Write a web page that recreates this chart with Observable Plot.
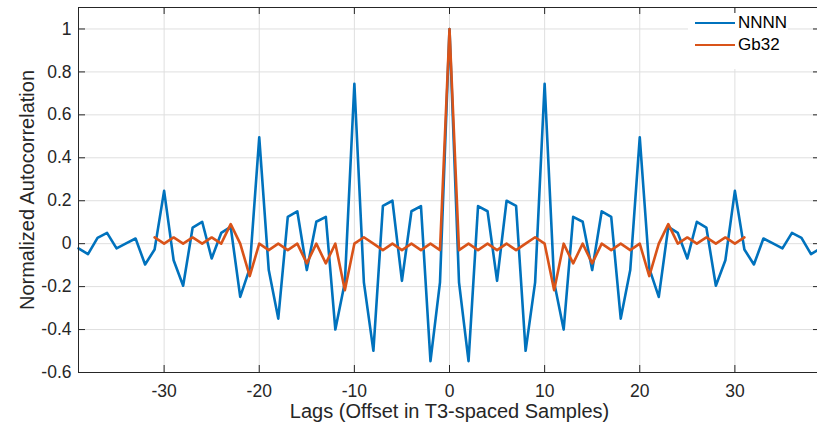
<!DOCTYPE html>
<html>
<head>
<meta charset="utf-8">
<script src="https://cdn.jsdelivr.net/npm/d3@7"></script>
<script src="https://cdn.jsdelivr.net/npm/@observablehq/plot@0.6"></script>
<style>
  body { margin: 0; background: #fff; }
  #wrap { position: relative; width: 817px; height: 428px; overflow: hidden; background: #fff;
          font-family: "Liberation Sans", Arial, Helvetica, sans-serif; }
  #legend { position: absolute; left: 688px; top: 13px; width: 100px; height: 56px; background: #fff; }
  .item { position: absolute; left: 7px; height: 20px; display: flex; align-items: center; }
  .swatch { width: 40px; height: 0; border-top: 2.6px solid; margin-right: 3px; }
  .lbl { font-size: 17px; color: #000; }
</style>
</head>
<body>
<div id="wrap"></div>
<script>
// ---- data ----
const lagsNNNN = [-39,-38,-37,-36,-35,-34,-33,-32,-31,-30,-29,-28,-27,-26,-25,-24,-23,-22,-21,-20,
  -19,-18,-17,-16,-15,-14,-13,-12,-11,-10,-9,-8,-7,-6,-5,-4,-3,-2,-1,0,
  1,2,3,4,5,6,7,8,9,10,11,12,13,14,15,16,17,18,19,20,
  21,22,23,24,25,26,27,28,29,30,31,32,33,34,35,36,37,38,39];
const valuesNNNN = [-0.022,-0.049,0.027,0.050,-0.022,0.001,0.024,-0.097,-0.027,0.246,-0.077,-0.196,0.075,0.102,-0.069,0.050,0.078,-0.248,-0.115,0.495,
  -0.123,-0.349,0.125,0.151,-0.123,0.102,0.125,-0.400,-0.180,0.745,-0.180,-0.499,0.176,0.200,-0.173,0.151,0.175,-0.547,-0.180,1.000,
  -0.180,-0.547,0.175,0.151,-0.173,0.200,0.176,-0.499,-0.180,0.745,-0.180,-0.400,0.125,0.102,-0.123,0.151,0.125,-0.349,-0.123,0.495,
  -0.115,-0.248,0.078,0.050,-0.069,0.102,0.075,-0.196,-0.077,0.246,-0.027,-0.097,0.024,0.001,-0.022,0.050,0.027,-0.049,-0.022];

const lagsGb32 = [-31,-30,-29,-28,-27,-26,-25,-24,-23,-22,-21,-20,-19,-18,-17,-16,-15,-14,-13,-12,-11,-10,
  -9,-8,-7,-6,-5,-4,-3,-2,-1,0,1,2,3,4,5,6,7,8,9,
  10,11,12,13,14,15,16,17,18,19,20,21,22,23,24,25,26,27,28,29,30,31];
const valuesGb32 = [0.029,0,0.029,0,0.029,0,0.029,0,0.091,0,-0.151,0,-0.030,0,-0.030,0,-0.092,0,-0.092,0,-0.217,0,
  0.030,0,-0.030,0,-0.030,0,-0.030,0,-0.030,1.000,-0.030,0,-0.030,0,-0.030,0,-0.030,0,0.030,
  0,-0.217,0,-0.092,0,-0.092,0,-0.030,0,-0.030,0,-0.151,0,0.091,0,0.029,0,0.029,0,0.029,0,0.029];

const seriesNames = ["NNNN", "Gb32"];
const seriesColors = ["#0072BD", "#D95319"];
const xTicks = [-30,-20,-10,0,10,20,30];
const yTicks = [-0.6,-0.4,-0.2,0,0.2,0.4,0.6,0.8,1];
const xDomain = [-39, 39];
const yDomain = [-0.6, 1.1];
const xLabel = "Lags (Offset in T3-spaced Samples)";
const yLabel = "Normalized Autocorrelation";

// ---- build ----
const nnnn = lagsNNNN.map((l, i) => ({lag: l, value: valuesNNNN[i]}));
const gb32 = lagsGb32.map((l, i) => ({lag: l, value: valuesGb32[i]}));

const W = 817, H = 428;
const mt = 7, mb = 56, ml = 78, mr = -3;
const innerH = H - mt - mb;
const innerW = W - ml - mr;
const tk = 7;
const axisColor = "#262626";
const gridColor = "#dfdfdf";
const fmt = d => String(d);
const font = '"Liberation Sans", Arial, Helvetica, sans-serif';

const chart = Plot.plot({
  width: W, height: H,
  marginTop: mt, marginBottom: mb, marginLeft: ml, marginRight: mr,
  style: {fontFamily: font, fontSize: "17.5px", color: axisColor, background: "#fff", overflow: "hidden"},
  x: {domain: xDomain},
  y: {domain: yDomain},
  marks: [
    Plot.gridX(xTicks, {stroke: gridColor, strokeOpacity: 1}),
    Plot.gridY(yTicks, {stroke: gridColor, strokeOpacity: 1}),
    Plot.lineY(nnnn, {x: "lag", y: "value", stroke: seriesColors[0], strokeWidth: 2.6}),
    Plot.lineY(gb32, {x: "lag", y: "value", stroke: seriesColors[1], strokeWidth: 2.6}),
    Plot.ruleX(xTicks, {x: d => d, insetTop: innerH - tk, stroke: axisColor}),
    Plot.ruleX(xTicks, {x: d => d, insetBottom: innerH - tk, stroke: axisColor}),
    Plot.ruleY(yTicks, {y: d => d, insetRight: innerW - tk, stroke: axisColor}),
    Plot.ruleY(yTicks, {y: d => d, insetLeft: innerW - tk, stroke: axisColor}),
    Plot.frame({stroke: axisColor, strokeWidth: 1}),
    Plot.axisX(xTicks, {tickSize: 0, tickPadding: 12, tickFormat: fmt, label: null, fill: axisColor, fontSize: 17.5}),
    Plot.axisY(yTicks, {tickSize: 0, tickPadding: 7, tickFormat: fmt, label: null, fill: axisColor, fontSize: 17.5}),
    Plot.text([xLabel], {text: d => d, frameAnchor: "bottom", dy: 39, fontSize: 20, fill: axisColor, lineAnchor: "middle", textAnchor: "middle"}),
    Plot.text([yLabel], {text: d => d, frameAnchor: "left", dx: -51, rotate: -90, fontSize: 20, fill: axisColor, lineAnchor: "middle", textAnchor: "middle"})
  ]
});

const wrap = document.getElementById("wrap");
wrap.appendChild(chart);

// legend overlay
const legend = document.createElement("div");
legend.id = "legend";
seriesNames.forEach((name, i) => {
  const item = document.createElement("div");
  item.className = "item";
  item.style.top = (10 + i * 22 - 10) + "px";
  const sw = document.createElement("div");
  sw.className = "swatch";
  sw.style.borderTopColor = seriesColors[i];
  const lb = document.createElement("span");
  lb.className = "lbl";
  lb.textContent = name;
  item.appendChild(sw);
  item.appendChild(lb);
  legend.appendChild(item);
});
wrap.appendChild(legend);
</script>
</body>
</html>
